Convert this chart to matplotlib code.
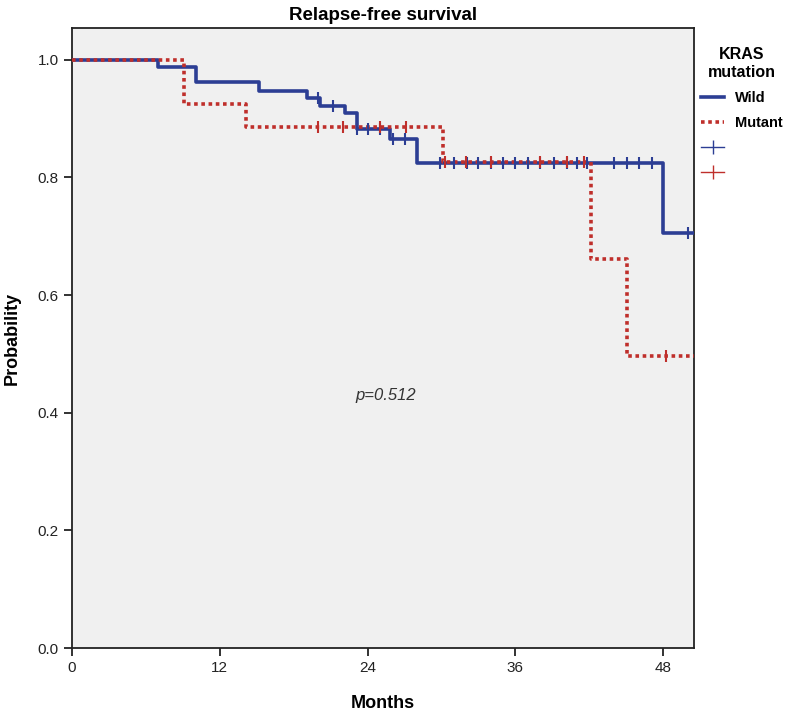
import numpy as np
import matplotlib
matplotlib.use("Agg")
import matplotlib.pyplot as plt
from matplotlib.lines import Line2D

plt.rcParams['font.family'] = ['Liberation Sans', 'DejaVu Sans']

# Kaplan-Meier step data (month of event, survival after event)
wild_t = [0, 7.0, 10.1, 15.2, 19.1, 20.1, 22.2, 23.1, 25.8, 28.0, 48.0, 50.5]
wild_s = [1.0, 0.988, 0.962, 0.947, 0.935, 0.922, 0.909, 0.882, 0.866, 0.824, 0.706, 0.706]
wild_cens_t = [20.0, 21.2, 23.1, 24.0, 25.0, 26.1, 27.0, 29.9, 31.0, 32.1, 33.0, 34.0, 35.0,
               36.0, 37.0, 38.0, 39.1, 40.2, 41.0, 41.8, 44.0, 45.1, 46.0, 47.1, 50.0]

mut_t = [0, 9.1, 14.1, 30.1, 42.1, 45.1, 50.5]
mut_s = [1.0, 0.925, 0.885, 0.826, 0.662, 0.497, 0.497]
mut_cens_t = [20.0, 22.0, 25.0, 27.1, 30.3, 32.0, 34.0, 38.0, 40.2, 41.6, 48.2]

blue = "#2c3e94"
red = "#bf2f2b"


def step_value(t, times, surv):
    idx = np.searchsorted(times, t, side='right') - 1
    return np.array(surv)[idx]


fig = plt.figure(figsize=(8, 7.14), dpi=100)
ax = fig.add_axes([0.09, 0.0924, 0.7775, 0.8684])
ax.set_facecolor("#f0f0f0")

ax.step(wild_t, wild_s, where='post', color=blue, lw=2.6, zorder=3)
ax.step(mut_t, mut_s, where='post', color=red, lw=2.6, ls=(0, (1, 1)), zorder=4)

ax.plot(wild_cens_t, step_value(wild_cens_t, wild_t, wild_s), ls='none',
        marker='|', ms=9, mew=1.5, color=blue, zorder=5)
ax.plot(mut_cens_t, step_value(mut_cens_t, mut_t, mut_s), ls='none',
        marker='|', ms=9, mew=1.5, color=red, zorder=6)

ax.text(25.5, 0.43, "p=0.512", style='italic', fontsize=12, color="#333333",
        ha='center', va='center')

ax.set_xlim(0, 50.5)
ax.set_ylim(0, 1.054)
ax.set_xticks([0, 12, 24, 36, 48])
ax.set_yticks([0.0, 0.2, 0.4, 0.6, 0.8, 1.0])
ax.set_yticklabels(["0.0", "0.2", "0.4", "0.6", "0.8", "1.0"])
ax.tick_params(labelsize=11, length=6, width=1.3, color="#222222", labelcolor="#222222")
for s in ax.spines.values():
    s.set_color("#222222")
    s.set_linewidth(1.3)

ax.set_xlabel("Months", fontsize=13, fontweight='bold', labelpad=14)
ax.set_ylabel("Probability", fontsize=13, fontweight='bold', labelpad=12)
ax.set_title("Relapse-free survival", fontsize=13.5, fontweight='bold', pad=6)

handles = [
    Line2D([], [], color=blue, lw=2.6),
    Line2D([], [], color=red, lw=2.6, ls=(0, (1, 1))),
    Line2D([], [], color=blue, lw=1, marker='|', ms=10),
    Line2D([], [], color=red, lw=1, marker='|', ms=10),
]
leg = ax.legend(handles, ["Wild", "Mutant", "", ""], title="KRAS\nmutation",
                loc='upper left', bbox_to_anchor=(0.995, 0.985), frameon=False,
                fontsize=10.5, handlelength=1.6, handletextpad=0.7, labelspacing=0.75,
                borderaxespad=0.3)
leg.get_title().set_fontweight('bold')
leg.get_title().set_fontsize(11.5)
leg.get_title().set_multialignment('center')
for t in leg.get_texts():
    t.set_fontweight('bold')

fig.savefig("out.png", dpi=100)
